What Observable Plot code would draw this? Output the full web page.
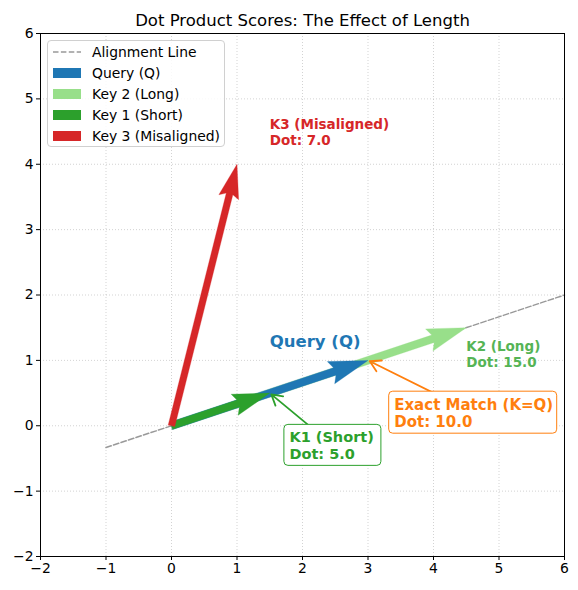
<!DOCTYPE html>
<html><head><meta charset="utf-8">
<script src="https://cdn.jsdelivr.net/npm/d3@7"></script>
<script src="https://cdn.jsdelivr.net/npm/@observablehq/plot@0.6"></script>
<style>
body{margin:0;background:#fff;font-family:"DejaVu Sans",sans-serif;}
#wrap{position:relative;width:578px;height:590px;}
.legend{position:absolute;left:47px;top:40px;width:178px;height:107px;box-sizing:border-box;border:1px solid #d0d0d0;border-radius:4px;background:rgba(255,255,255,0.85);font-size:13.9px;color:#000;}
.legend .row{position:absolute;left:0;height:21px;}
.legend .sw{position:absolute;left:5px;width:28px;height:10px;}
.legend .lab{position:absolute;left:44px;top:1px;white-space:nowrap;line-height:19px;}
</style></head><body><div id="wrap"></div>
<script>
// ---- data ----
const titleText = "Dot Product Scores: The Effect of Length";
const vectorNames = ["Query (Q)", "Key 2 (Long)", "Key 1 (Short)", "Key 3 (Misaligned)"];
const vectorX = [3, 4.5, 1.5, 1];
const vectorY = [1, 1.5, 0.5, 4];
const vectorColors = ["#1f77b4", "#98df8a", "#2ca02c", "#d62728"];
const drawOrder = [1, 0, 2, 3];
const alignX = [-1, 6];
const alignY = [-1/3, 2];
const tickValues = [-2, -1, 0, 1, 2, 3, 4, 5, 6];
const labelTexts = ["Query (Q)", "K2 (Long)\nDot: 15.0", "K3 (Misaligned)\nDot: 7.0"];
const labelX = [1.5, 4.5, 1.5];
const labelY = [1.3, 1.1, 4.5];
const labelColors = ["#1f77b4", "#55b455", "#d62728"];
const calloutTexts = ["K1 (Short)\nDot: 5.0", "Exact Match (K=Q)\nDot: 10.0"];
const calloutX = [1.8, 3.4];
const calloutY = [-0.3, 0.2];
const calloutTargetX = [1.5, 3];
const calloutTargetY = [0.5, 1];
const calloutColors = ["#2ca02c", "#ff7f0e"];

// ---- layout ----
const W = 578, H = 590, mL = 40, mR = 14, mT = 33, mB = 34;
const kx = (W - mL - mR) / 8, ky = (H - mT - mB) / 8;
const shaftWidths = [7.8, 7.8, 7.4, 6.8];

function arrowPolygon(x, y, w) {
  const px = x * kx, py = -y * ky;
  const L = Math.hypot(px, py), ux = px / L, uy = py / L, vx = -uy, vy = ux;
  const pts = [[0, -w/2], [L - 4.5*w, -w/2], [L - 5*w, -1.5*w], [L, 0], [L - 5*w, 1.5*w], [L - 4.5*w, w/2], [0, w/2]];
  return pts.map(([a, b]) => ({x: (a*ux + b*vx) / kx, y: -(a*uy + b*vy) / ky}));
}

const marks = [
  Plot.gridX(tickValues, {stroke: "#b0b0b0", strokeOpacity: 0.7, strokeDasharray: "1,2", strokeWidth: 0.8}),
  Plot.gridY(tickValues, {stroke: "#b0b0b0", strokeOpacity: 0.7, strokeDasharray: "1,2", strokeWidth: 0.8}),
  Plot.line(alignX.map((x, i) => ({x, y: alignY[i]})), {x: "x", y: "y", stroke: "#999", strokeWidth: 1.5, strokeDasharray: "5.5,2.4"})
];
for (const i of drawOrder) {
  marks.push(Plot.line(arrowPolygon(vectorX[i], vectorY[i], shaftWidths[i]), {x: "x", y: "y", fill: vectorColors[i], stroke: vectorColors[i], strokeWidth: 0.3, curve: "linear-closed"}));
}
const textW = [87, 158], boxH = [41, 42];
calloutTexts.forEach((t, i) => {
  const x1 = calloutX[i] - 5 / kx, x2 = calloutX[i] + (textW[i] + 5) / kx;
  const cx = (x1 + x2) / 2;
  marks.push(Plot.arrow([0], {x1: () => cx, y1: () => calloutY[i], x2: () => calloutTargetX[i], y2: () => calloutTargetY[i], stroke: calloutColors[i], strokeWidth: 1.8, headLength: 10, insetEnd: 2}));
  marks.push(Plot.rect([0], {x1: () => x1, x2: () => x2, y1: () => calloutY[i] - boxH[i] / 2 / ky, y2: () => calloutY[i] + boxH[i] / 2 / ky, fill: "white", stroke: calloutColors[i], strokeWidth: 1, rx: 4}));
  marks.push(Plot.text([t], {x: () => calloutX[i], y: () => calloutY[i], text: d => d, textAnchor: "start", lineAnchor: "middle", fill: calloutColors[i], fontWeight: "bold", fontSize: i === 0 ? 14.5 : 15, lineHeight: 1.17}));
});
labelTexts.forEach((t, i) => {
  marks.push(Plot.text([t], {x: () => labelX[i], y: () => labelY[i], text: d => d, textAnchor: "start", lineAnchor: "middle", fill: labelColors[i], fontWeight: "bold", fontSize: i === 0 ? 16.5 : 13.5, lineHeight: 1.2}));
});
marks.push(Plot.frame({stroke: "#000", strokeWidth: 1}));
marks.push(Plot.text([titleText], {frameAnchor: "top", dy: -19, fontSize: 16.5, fill: "#000"}));

const chart = Plot.plot({
  width: W, height: H,
  marginLeft: mL, marginRight: mR, marginTop: mT, marginBottom: mB,
  style: {fontFamily: "DejaVu Sans, sans-serif", fontSize: "13.9px", color: "#000", background: "#fff"},
  x: {domain: [-2, 6], ticks: tickValues, tickSize: 4, tickPadding: 3, label: null},
  y: {domain: [-2, 6], ticks: tickValues, tickSize: 4, tickPadding: 3, label: null},
  marks
});
const wrap = document.getElementById("wrap");
wrap.appendChild(chart);

// legend
const legend = document.createElement("div");
legend.className = "legend";
const entries = [{name: "Alignment Line", dash: true}].concat(vectorNames.map((n, i) => ({name: n, color: vectorColors[i]})));
entries.forEach((e, k) => {
  const row = document.createElement("div");
  row.className = "row";
  row.style.top = (1 + k * 21) + "px";
  row.style.width = "100%";
  if (e.dash) {
    row.innerHTML = `<svg class="sw" style="top:5px" width="28" height="10"><line x1="0" x2="28" y1="5" y2="5" stroke="#999" stroke-width="1.5" stroke-dasharray="5.5,2.4"/></svg><span class="lab">${e.name}</span>`;
  } else {
    row.innerHTML = `<div class="sw" style="top:5px;background:${e.color}"></div><span class="lab">${e.name}</span>`;
  }
  legend.appendChild(row);
});
wrap.appendChild(legend);
</script></body></html>
